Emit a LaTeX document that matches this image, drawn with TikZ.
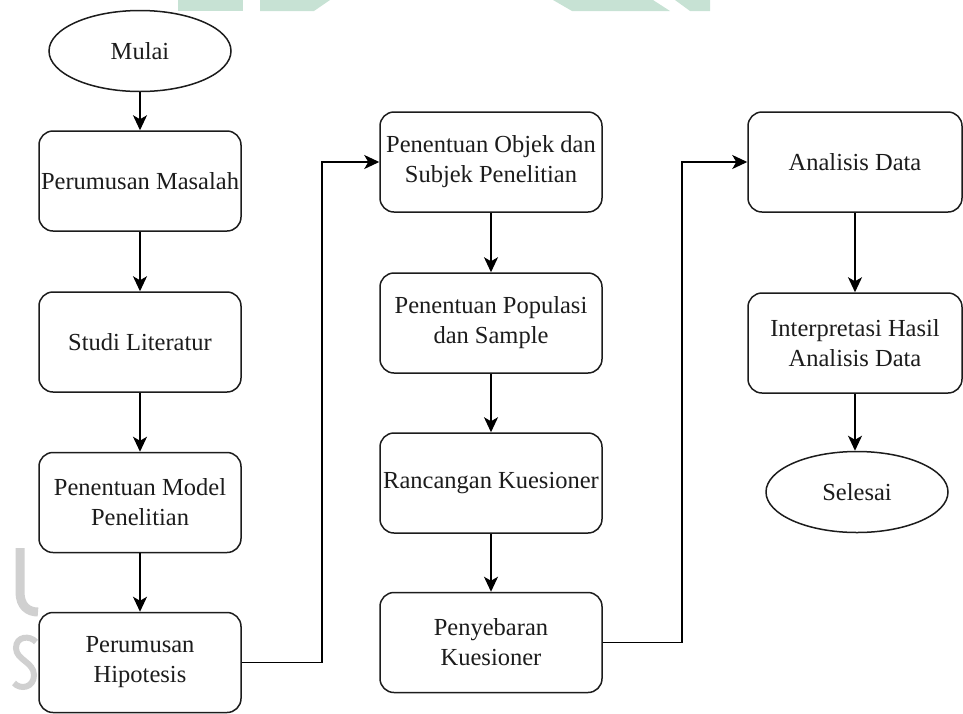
\documentclass[tikz,border=0pt]{standalone}
\usepackage{fontspec}
\setmainfont{Liberation Serif}
\usetikzlibrary{arrows.meta,shapes.geometric}
\definecolor{wmgreen}{RGB}{199,226,212}
\definecolor{wmgray}{RGB}{208,208,208}
\definecolor{ink}{RGB}{28,28,28}
\begin{document}
\begin{tikzpicture}[x=1pt,y=-1pt,
  label text/.style={text=ink, font=\fontsize{24.5}{30}\selectfont},
  stepbox/.style={label text, draw=ink, line width=1.5pt, rounded corners=14pt,
    fill=white, align=center, inner sep=0pt, minimum height=100pt},
  terminal/.style={label text, ellipse, draw=ink, line width=1.5pt, fill=white,
    inner sep=0pt, minimum width=182pt, minimum height=81pt},
  flow/.style={draw=black, line width=1.6pt,
    -{Stealth[length=15pt,width=14pt,inset=4pt]}}]
\useasboundingbox (0,0) rectangle (963,713);

% faint background mark: green band along the top edge
\fill[wmgreen] (178,0) rectangle (243,11);
\fill[wmgreen] (260,0) -- (330,0) -- (314,11) -- (260,11) -- cycle;
\fill[wmgreen] (553,0) -- (653,0) -- (670,11) -- (572,11) -- cycle;
\fill[wmgreen] (675,0) -- (710,0) -- (710,11) -- (690,11) -- cycle;
% faint grey letters at the left edge
\draw[wmgray, line width=9pt] (20,548) -- (20,592) .. controls (20,606) and (28,612) .. (38,612);
\draw[wmgray, line width=6pt] (36,642) .. controls (30,635) and (16,636) .. (16,648)
  .. controls (16,660) and (34,662) .. (34,675) .. controls (34,688) and (20,690) .. (14,683);

% first column
\node[terminal] (mulai) at (140,51) {Mulai};
\node[stepbox, minimum width=202pt] (rm)  at (140,181) {Perumusan Masalah};
\node[stepbox, minimum width=202pt] (sl)  at (140,342) {Studi Literatur};
\node[stepbox, minimum width=202pt] (pm)  at (140,502.5) {Penentuan Model\\Penelitian};
\node[stepbox, minimum width=202pt] (hip) at (140,662.5) {Perumusan\\Hipotesis};

% second column
\node[stepbox, minimum width=222pt] (obj) at (491,162) {Penentuan Objek dan\\Subjek Penelitian};
\node[stepbox, minimum width=222pt] (pop) at (491,323) {Penentuan Populasi\\dan Sample};
\node[stepbox, minimum width=222pt] (rk)  at (491,483) {Rancangan Kuesioner};
\node[stepbox, minimum width=222pt] (pk)  at (491,642.5) {Penyebaran\\Kuesioner};

% third column
\node[stepbox, minimum width=214pt] (ad)  at (855,162) {Analisis Data};
\node[stepbox, minimum width=214pt] (ih)  at (855,343) {Interpretasi Hasil\\Analisis Data};
\node[terminal] (sel) at (857,492) {Selesai};

% connectors
\draw[flow] (mulai) -- (rm);
\draw[flow] (rm) -- (sl);
\draw[flow] (sl) -- (pm);
\draw[flow] (pm) -- (hip);
\draw[flow] (hip.east) -- ++(80,0) |- (obj.west);
\draw[flow] (obj) -- (pop);
\draw[flow] (pop) -- (rk);
\draw[flow] (rk) -- (pk);
\draw[flow] (pk.east) -- ++(79,0) |- (ad.west);
\draw[flow] (ad) -- (ih);
\draw[flow] (ih.south) -- (ih.south |- sel.north);
\end{tikzpicture}
\end{document}
